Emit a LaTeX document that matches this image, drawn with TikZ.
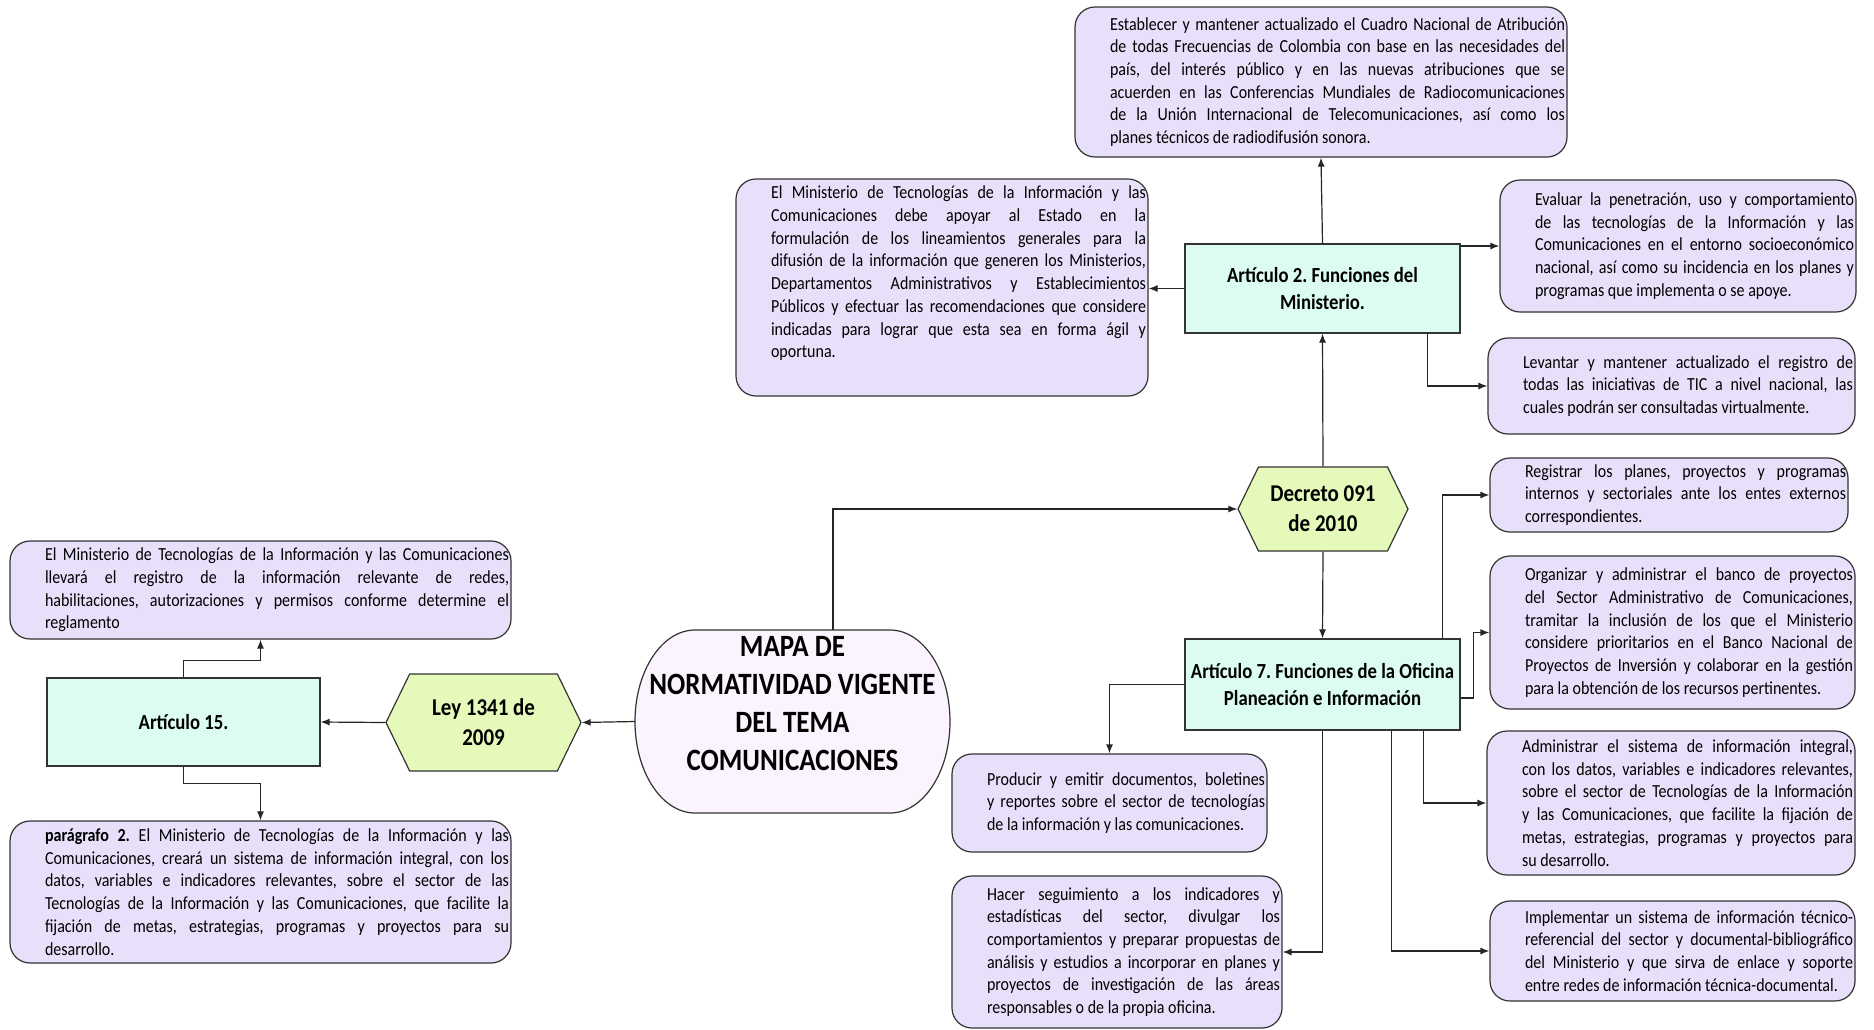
\documentclass[tikz,border=0pt]{standalone}
\usepackage{fontspec}
\setmainfont{Carlito}[FakeStretch=0.87]
\usetikzlibrary{arrows.meta,shapes.symbols}
\definecolor{lila}{RGB}{232,224,250}
\definecolor{menta}{RGB}{220,252,242}
\definecolor{lima}{RGB}{228,249,186}
\definecolor{rosa}{RGB}{251,243,253}

\begin{document}
\frenchspacing
\begin{tikzpicture}[x=1pt,y=-1pt,
    funcion/.style={draw=black!80,line width=1.2pt,fill=lila,rounded corners=20pt,
      align=justify,inner xsep=2pt,inner ysep=2pt,
      font=\fontsize{18.4}{22.7}\selectfont,execute at begin node={\leftskip=33pt}},
    articulo/.style={draw=black!80,line width=1.2pt,fill=menta,align=center,
      font=\fontsize{21.5}{27.5}\selectfont\bfseries},
    norma/.style={signal,signal to=east and west,signal pointer angle=128,
      draw=black!80,line width=1.2pt,fill=lima,align=center,inner sep=0pt,
      font=\fontsize{24.1}{30}\selectfont\bfseries},
    flecha/.style={line width=1.2pt,draw=black!85,-{Latex[length=9pt,width=7pt]}}]
        \fill[white] (0,0) rectangle (1874,1029);
        \path[use as bounding box] (0,0) rectangle (1874,1029);

        % tema central
        \draw[black!80,line width=1.2pt,fill=rosa] (695,630) -- (890,630)
          arc[start angle=90,end angle=-90,x radius=60pt,y radius=91.5pt] -- (695,813)
          arc[start angle=270,end angle=90,x radius=60pt,y radius=91.5pt] -- cycle;
        \node[minimum width=315pt,minimum height=183pt,inner sep=0pt,align=center,text depth=37pt,
          font=\fontsize{31}{38}\selectfont\bfseries] (mapa) at (792.5,721.5)
          {MAPA DE\\NORMATIVIDAD VIGENTE\\DEL TEMA\\COMUNICACIONES};

        % ley 1341 de 2009
        \node[norma,minimum width=195pt,minimum height=97pt] (ley) at (483.5,722.5) {Ley 1341 de\\2009};
        \node[articulo,minimum width=273pt,minimum height=88pt] (art15) at (183.5,722) {Artículo 15.};
        \node[funcion,text width=497pt,minimum height=98pt] (registro) at (260.5,590)
          {El Ministerio de Tecnologías de la Información y las Comunicaciones\linebreak
           llevará el registro de la información relevante de redes,\linebreak
           habilitaciones, autorizaciones y permisos conforme determine el\linebreak
           reglamento};
        \node[funcion,text width=497pt,minimum height=142pt] (paragrafo) at (260.5,892)
          {\textbf{parágrafo 2.} El Ministerio de Tecnologías de la Información y las\linebreak
           Comunicaciones, creará un sistema de información integral, con los\linebreak
           datos, variables e indicadores relevantes, sobre el sector de las\linebreak
           Tecnologías de la Información y las Comunicaciones, que facilite la\linebreak
           fijación de metas, estrategias, programas y proyectos para su\linebreak
           desarrollo.};

        % decreto 091 de 2010
        \node[norma,minimum width=170pt,minimum height=84pt] (decreto) at (1323,509) {Decreto 091\\de 2010};

        % articulo 2
        \node[articulo,minimum width=275pt,minimum height=89pt] (art2) at (1322.5,288.5) {Artículo 2. Funciones del\\Ministerio.};
        \node[funcion,text width=488pt,minimum height=150pt] (cuadro) at (1321,82)
          {Establecer y mantener actualizado el Cuadro Nacional de Atribución\linebreak
           de todas Frecuencias de Colombia con base en las necesidades del\linebreak
           país, del interés público y en las nuevas atribuciones que se\linebreak
           acuerden en las Conferencias Mundiales de Radiocomunicaciones\linebreak
           de la Unión Internacional de Telecomunicaciones, así como los\linebreak
           planes técnicos de radiodifusión sonora.};
        \node[funcion,text width=408pt,minimum height=217pt,text depth=190pt] (difusion) at (942,287.5)
          {El Ministerio de Tecnologías de la Información y las\linebreak
           Comunicaciones debe apoyar al Estado en la\linebreak
           formulación de los lineamientos generales para la\linebreak
           difusión de la información que generen los Ministerios,\linebreak
           Departamentos Administrativos y Establecimientos\linebreak
           Públicos y efectuar las recomendaciones que considere\linebreak
           indicadas para lograr que esta sea en forma ágil y\linebreak
           oportuna.};
        \node[funcion,text width=352pt,minimum height=132pt] (evaluar) at (1678,246)
          {Evaluar la penetración, uso y comportamiento\linebreak
           de las tecnologías de la Información y las\linebreak
           Comunicaciones en el entorno socioeconómico\linebreak
           nacional, así como su incidencia en los planes y\linebreak
           programas que implementa o se apoye.};
        \node[funcion,text width=363pt,minimum height=96pt] (levantar) at (1671.5,386)
          {Levantar y mantener actualizado el registro de\linebreak
           todas las iniciativas de TIC a nivel nacional, las\linebreak
           cuales podrán ser consultadas virtualmente.};

        % articulo 7
        \node[articulo,minimum width=275pt,minimum height=91pt] (art7) at (1322.5,684.5) {Artículo 7. Funciones de la Oficina\\Planeación e Información};
        \node[funcion,text width=354pt,minimum height=74pt] (registrar) at (1669,495)
          {Registrar los planes, proyectos y programas\linebreak
           internos y sectoriales ante los entes externos\linebreak
           correspondientes.};
        \node[funcion,text width=361pt,minimum height=153pt] (banco) at (1672.5,632.5)
          {Organizar y administrar el banco de proyectos\linebreak
           del Sector Administrativo de Comunicaciones,\linebreak
           tramitar la inclusión de los que el Ministerio\linebreak
           considere prioritarios en el Banco Nacional de\linebreak
           Proyectos de Inversión y colaborar en la gestión\linebreak
           para la obtención de los recursos pertinentes.};
        \node[funcion,text width=364pt,minimum height=144pt] (sistema) at (1671,803)
          {Administrar el sistema de información integral,\linebreak
           con los datos, variables e indicadores relevantes,\linebreak
           sobre el sector de Tecnologías de la Información\linebreak
           y las Comunicaciones, que facilite la fijación de\linebreak
           metas, estrategias, programas y proyectos para\linebreak
           su desarrollo.};
        \node[funcion,text width=361pt,minimum height=100pt] (implementar) at (1672.5,951)
          {Implementar un sistema de información técnico-\linebreak
           referencial del sector y documental-bibliográfico\linebreak
           del Ministerio y que sirva de enlace y soporte\linebreak
           entre redes de información técnica-documental.};
        \node[funcion,text width=311pt,minimum height=98pt] (producir) at (1109.5,803)
          {Producir y emitir documentos, boletines\linebreak
           y reportes sobre el sector de tecnologías\linebreak
           de la información y las comunicaciones.};
        \node[funcion,text width=326pt,minimum height=152pt] (seguimiento) at (1117,952)
          {Hacer seguimiento a los indicadores y\linebreak
           estadísticas del sector, divulgar los\linebreak
           comportamientos y preparar propuestas de\linebreak
           análisis y estudios a incorporar en planes y\linebreak
           proyectos de investigación de las áreas\linebreak
           responsables o de la propia oficina.};

        % conectores
        \draw[flecha] ([xshift=40.5pt]mapa.north) |- (decreto.west);
        \draw[flecha] (mapa.west) -- (ley.east);
        \draw[flecha] (ley.west) -- (art15.east);
        \draw[flecha] (art15.north) -- ++(0,-17) -| (registro.south);
        \draw[flecha] (art15.south) -- ++(0,17) -| (paragrafo.north);
        \draw[flecha] (decreto.north) -- (art2.south);
        \draw[flecha] (art2.north) -- (cuadro.south);
        \draw[flecha] (art2.west) -- (art2.west -| difusion.east);
        \draw[flecha] (evaluar.west -| art2.east) -- (evaluar.west);
        \draw[flecha] ([xshift=-33pt]art2.south east) |- (levantar.west);
        \draw[flecha] (decreto.south) -- (art7.north);
        \draw[flecha] ([xshift=-18pt]art7.north east) |- (registrar.west);
        \draw[flecha] ([yshift=-13.5pt]art7.east) -- ++(13,0) |- (banco.west);
        \draw[flecha] ([xshift=-37pt]art7.south east) |- (sistema.west);
        \draw[flecha] ([xshift=-69pt]art7.south east) |- (implementar.west);
        \draw[flecha] (art7.west) -| (producir.north);
        \draw[flecha] (art7.south) |- (seguimiento.east);
    \end{tikzpicture}
\end{document}
